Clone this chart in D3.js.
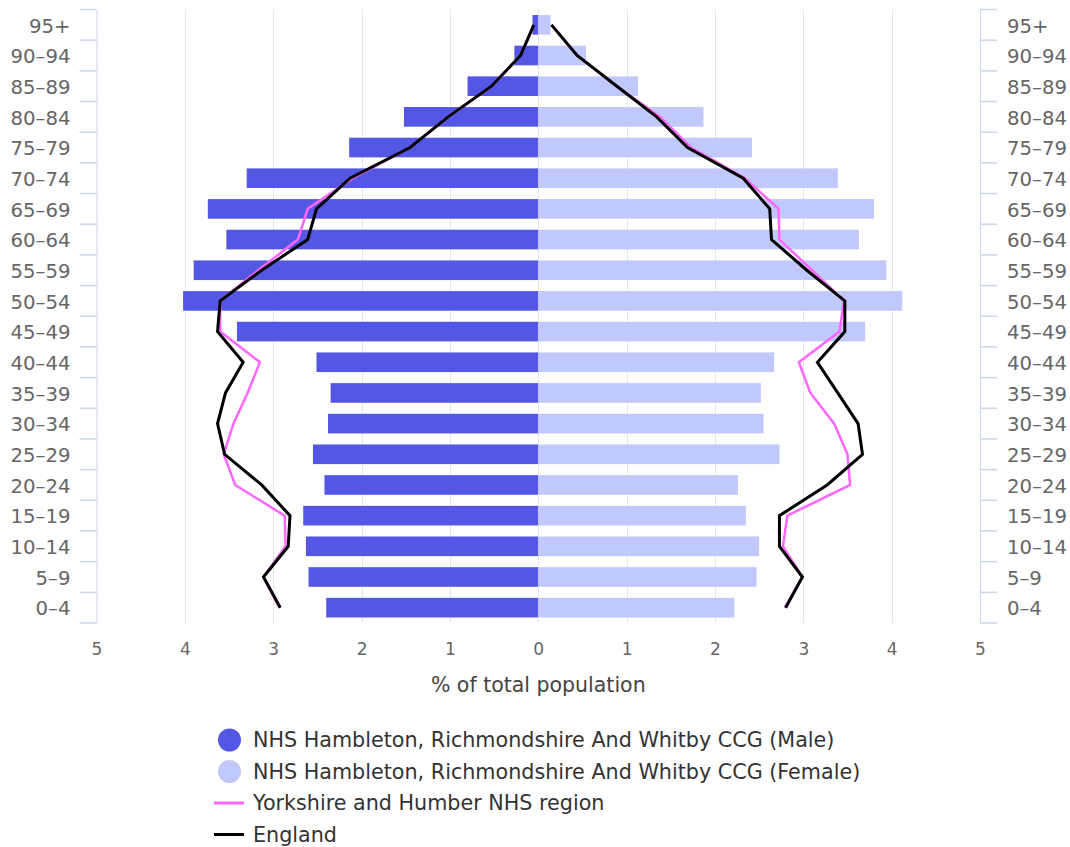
<!DOCTYPE html>
<html>
<head>
<meta charset="utf-8">
<script src="https://cdn.jsdelivr.net/npm/d3@7/dist/d3.min.js"></script>
<style>
  html, body { margin: 0; padding: 0; background: #ffffff; }
  svg { display: block; font-family: "DejaVu Sans", Verdana, sans-serif; }
</style>
</head>
<body>
<svg id="chart" width="1070" height="847"></svg>
<script>
// ---- Data ----
const ageGroups = ["0–4","5–9","10–14","15–19","20–24","25–29","30–34","35–39","40–44","45–49",
                   "50–54","55–59","60–64","65–69","70–74","75–79","80–84","85–89","90–94","95+"];
const ccgMale   = [2.40,2.60,2.63,2.66,2.42,2.55,2.38,2.35,2.51,3.41,
                   4.02,3.90,3.53,3.74,3.30,2.14,1.52,0.80,0.27,0.065];
const ccgFemale = [2.22,2.47,2.50,2.35,2.26,2.73,2.55,2.52,2.67,3.70,
                   4.12,3.94,3.63,3.80,3.39,2.42,1.87,1.13,0.54,0.14];
const yorksMale   = [2.93,3.11,2.86,2.87,3.43,3.56,3.45,3.29,3.15,3.60,
                     3.60,3.17,2.72,2.61,2.10,1.45,1.02,0.53,0.20,0.05];
const yorksFemale = [2.79,2.99,2.77,2.82,3.53,3.50,3.35,3.08,2.95,3.41,
                     3.46,3.10,2.73,2.72,2.34,1.73,1.38,0.89,0.44,0.15];
const englandMale   = [2.92,3.11,2.83,2.81,3.13,3.55,3.63,3.54,3.34,3.63,
                       3.60,3.13,2.61,2.51,2.13,1.45,1.02,0.53,0.20,0.05];
const englandFemale = [2.80,2.99,2.73,2.73,3.27,3.67,3.62,3.39,3.16,3.47,
                       3.47,3.04,2.64,2.62,2.32,1.69,1.34,0.89,0.44,0.15];
const xTicks = [-5,-4,-3,-2,-1,0,1,2,3,4,5];
const xTitle = "% of total population";
const legendItems = [
  {label: "NHS Hambleton, Richmondshire And Whitby CCG (Male)", type: "circle", color: "#5457e3"},
  {label: "NHS Hambleton, Richmondshire And Whitby CCG (Female)", type: "circle", color: "#c1c8fc"},
  {label: "Yorkshire and Humber NHS region", type: "line", color: "#ff66ff"},
  {label: "England", type: "line", color: "#000000"}
];

// ---- Layout ----
const svg = d3.select("#chart");
const pLeft = 96.5, pRight = 980, pTop = 9.5, pBottom = 623;

const x = d3.scaleLinear().domain([-5, 5]).range([pLeft, pRight]);
const y = d3.scaleBand().domain(ageGroups).range([pBottom, pTop]).paddingInner(0).paddingOuter(0);
const bh = y.bandwidth();
const barH = bh * 0.64;
const yc = d => y(d) + bh / 2;

// grid lines
svg.append("g").selectAll("line").data(xTicks.filter(t => Math.abs(t) < 5)).join("line")
  .attr("x1", d => Math.round(x(d)) + 0.5).attr("x2", d => Math.round(x(d)) + 0.5)
  .attr("y1", pTop).attr("y2", pBottom)
  .attr("stroke", "#e6e6e6").attr("stroke-width", 1);

// left axis
const leftAxis = d3.axisLeft(y).tickSize(0).tickPadding(26);
const gL = svg.append("g").attr("transform", `translate(${pLeft},1.5)`).call(leftAxis);
gL.select(".domain").attr("transform", "translate(0,-1.5)").attr("stroke", "#ccd6eb").attr("stroke-width", 1);
gL.selectAll("text").attr("fill", "#666666").style("font-size", "19.7px").style("font-family", "DejaVu Sans");
// right axis
const rightAxis = d3.axisRight(y).tickSize(0).tickPadding(27);
const gR = svg.append("g").attr("transform", `translate(${pRight},1.5)`).call(rightAxis);
gR.select(".domain").attr("transform", "translate(0,-1.5)").attr("stroke", "#ccd6eb").attr("stroke-width", 1);
gR.selectAll("text").attr("fill", "#666666").style("font-size", "19.7px").style("font-family", "DejaVu Sans");

// band boundary ticks
const bounds = ageGroups.map(d => y(d)).concat([pBottom]);
svg.append("g").selectAll("line").data(bounds).join("line")
  .attr("x1", pLeft - 17).attr("x2", pLeft).attr("y1", d => d).attr("y2", d => d)
  .attr("stroke", "#ccd6eb").attr("stroke-width", 1.5);
svg.append("g").selectAll("line").data(bounds).join("line")
  .attr("x1", pRight).attr("x2", pRight + 17).attr("y1", d => d).attr("y2", d => d)
  .attr("stroke", "#ccd6eb").attr("stroke-width", 1.5);

// bottom axis labels
const xAxis = d3.axisBottom(x).tickValues(xTicks).tickSize(0).tickPadding(0).tickFormat(d => Math.abs(d));
const gX = svg.append("g").attr("transform", `translate(0,${pBottom + 20})`).call(xAxis);
gX.select(".domain").remove();
gX.selectAll("text").attr("fill", "#666666").style("font-size", "17px").style("font-family", "DejaVu Sans");

svg.append("text").attr("x", x(0)).attr("y", 692).attr("text-anchor", "middle")
  .attr("fill", "#444444").style("font-size", "20.5px").text(xTitle);

// bars
svg.append("g").selectAll("rect").data(ageGroups).join("rect")
  .attr("x", (d, i) => x(-ccgMale[i])).attr("width", (d, i) => x(0) - x(-ccgMale[i]))
  .attr("y", d => yc(d) - barH / 2).attr("height", barH)
  .attr("fill", legendItems[0].color);
svg.append("g").selectAll("rect").data(ageGroups).join("rect")
  .attr("x", x(0)).attr("width", (d, i) => x(ccgFemale[i]) - x(0))
  .attr("y", d => yc(d) - barH / 2).attr("height", barH)
  .attr("fill", legendItems[1].color);

// lines
function drawLine(vals, sign, color, w) {
  const line = d3.line().x((v, i) => x(sign * v)).y((v, i) => yc(ageGroups[i]));
  svg.append("path").attr("d", line(vals)).attr("fill", "none")
    .attr("stroke", color).attr("stroke-width", w).attr("stroke-linejoin", "miter");
}
drawLine(yorksMale, -1, legendItems[2].color, 2.5);
drawLine(yorksFemale, 1, legendItems[2].color, 2.5);
drawLine(englandMale, -1, legendItems[3].color, 3);
drawLine(englandFemale, 1, legendItems[3].color, 3);

// legend
const lg = svg.append("g").selectAll("g").data(legendItems).join("g")
  .attr("transform", (d, i) => `translate(0,${740 + i * 31.5})`);
lg.filter(d => d.type === "circle").append("circle")
  .attr("cx", 229.5).attr("cy", 0).attr("r", 11.5).attr("fill", d => d.color);
lg.filter(d => d.type === "line").append("line")
  .attr("x1", 214).attr("x2", 244).attr("y1", 0).attr("y2", 0)
  .attr("stroke", d => d.color).attr("stroke-width", 3);
lg.append("text").attr("x", 253).attr("y", 7).attr("fill", "#333333")
  .style("font-size", "20.7px").text(d => d.label);
</script>
</body>
</html>
